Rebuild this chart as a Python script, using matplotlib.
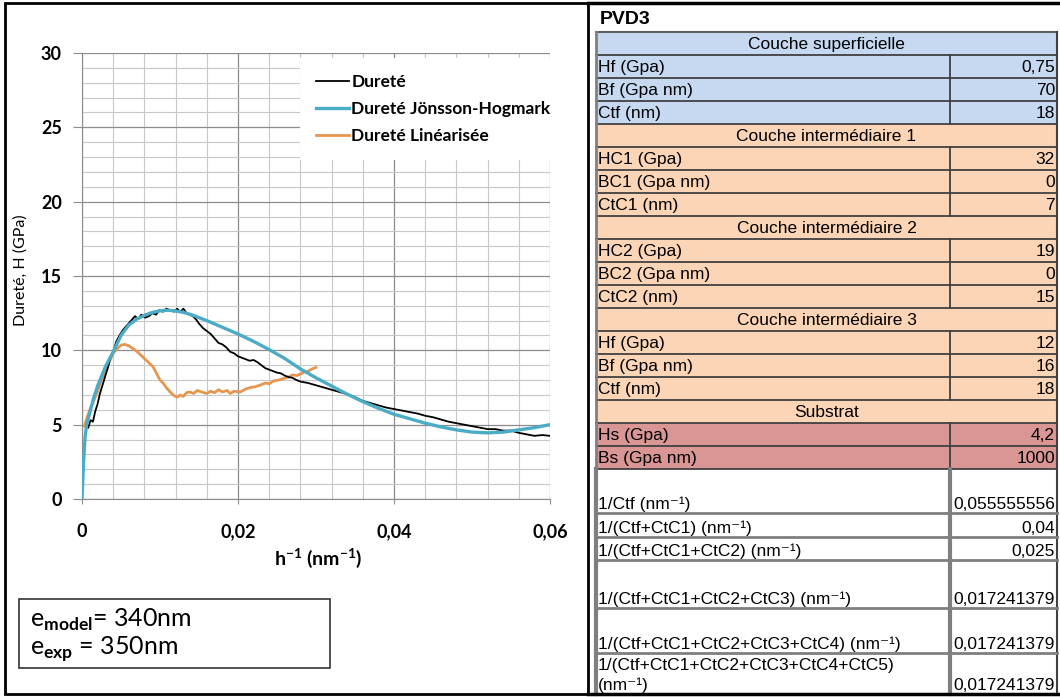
import matplotlib.pyplot as plt
from matplotlib.patches import Rectangle
from matplotlib.ticker import MultipleLocator, FixedLocator, FixedFormatter

plt.rcParams['mathtext.fontset'] = 'custom'
plt.rcParams['mathtext.rm'] = 'Lato'
plt.rcParams['mathtext.bf'] = 'Lato:bold'

# --- courbes (h^-1 en nm^-1, durete en GPa) ---
durete_x = [0.0008, 0.0011, 0.0014, 0.0017, 0.0020, 0.0023, 0.0026, 0.0030, 0.0033, 0.0036,
            0.0040, 0.0044, 0.0048, 0.0053, 0.0058, 0.0063, 0.0068, 0.0072, 0.0076, 0.0081,
            0.0086, 0.0090, 0.0095, 0.0099, 0.0104, 0.0108, 0.0113, 0.0118, 0.0122, 0.0126,
            0.0130, 0.0134, 0.0138, 0.0142, 0.0146, 0.0150, 0.0155, 0.0160, 0.0165, 0.0170,
            0.0175, 0.0180, 0.0185, 0.0190, 0.0195, 0.0200, 0.0205, 0.0210, 0.0215, 0.0220,
            0.0225, 0.0230, 0.0235, 0.0240, 0.0245, 0.0250, 0.0255, 0.0260, 0.0265, 0.0270,
            0.0275, 0.0280, 0.0290, 0.0300, 0.0310, 0.0320, 0.0330, 0.0340, 0.0350, 0.0360,
            0.0370, 0.0380, 0.0390, 0.0400, 0.0410, 0.0420, 0.0430, 0.0440, 0.0450, 0.0460,
            0.0470, 0.0480, 0.0490, 0.0500, 0.0510, 0.0520, 0.0530, 0.0540, 0.0550, 0.0560,
            0.0570, 0.0580, 0.0590, 0.0600]
durete_y = [4.8, 5.3, 5.2, 5.9, 6.4, 7.1, 7.6, 8.3, 8.8, 9.4,
            9.9, 10.6, 11.0, 11.4, 11.7, 12.0, 12.3, 12.1, 12.4, 12.2,
            12.3, 12.5, 12.4, 12.7, 12.6, 12.8, 12.7, 12.6, 12.8, 12.6,
            12.8, 12.5, 12.4, 12.3, 12.1, 11.8, 11.5, 11.3, 11.1, 10.8,
            10.5, 10.4, 10.2, 9.9, 9.8, 9.6, 9.5, 9.4, 9.3, 9.35,
            9.2, 9.0, 8.8, 8.7, 8.6, 8.5, 8.45, 8.3, 8.2, 8.15,
            8.0, 7.9, 7.8, 7.65, 7.5, 7.35, 7.2, 7.05, 6.85, 6.6,
            6.45, 6.3, 6.15, 6.05, 5.95, 5.85, 5.75, 5.6, 5.5, 5.35,
            5.2, 5.1, 5.0, 4.9, 4.8, 4.7, 4.7, 4.6, 4.6, 4.45,
            4.35, 4.25, 4.3, 4.25]

jh_x = [0.0, 0.0002, 0.0004, 0.0006, 0.0010, 0.0015, 0.0020, 0.0030, 0.0040, 0.0050,
        0.0060, 0.0070, 0.0080, 0.0090, 0.0100, 0.0110, 0.0120, 0.0130, 0.0140, 0.0160,
        0.0180, 0.0200, 0.0220, 0.0240, 0.0260, 0.0280, 0.0300, 0.0320, 0.0340, 0.0360,
        0.0380, 0.0400, 0.0420, 0.0440, 0.0460, 0.0480, 0.0500, 0.0520, 0.0540, 0.0560,
        0.0580, 0.0600]
jh_y = [0.0, 2.5, 4.2, 5.0, 5.8, 6.8, 7.6, 8.9, 9.9, 11.0,
        11.7, 12.1, 12.35, 12.55, 12.65, 12.7, 12.65, 12.55, 12.4, 12.0,
        11.55, 11.1, 10.6, 10.05, 9.45, 8.75, 8.15, 7.6, 7.05, 6.55,
        6.1, 5.7, 5.4, 5.1, 4.85, 4.65, 4.5, 4.45, 4.5, 4.65,
        4.8, 5.0]

lin_x = [0.0003, 0.0006, 0.0010, 0.0015, 0.0019, 0.0025, 0.0032, 0.0040, 0.0045, 0.0050,
         0.0055, 0.0060, 0.0066, 0.0072, 0.0078, 0.0084, 0.0091, 0.0096, 0.0100, 0.0104,
         0.0108, 0.0113, 0.0118, 0.0122, 0.0126, 0.0130, 0.0134, 0.0138, 0.0143, 0.0148,
         0.0153, 0.0160, 0.0165, 0.0170, 0.0175, 0.0180, 0.0186, 0.0190, 0.0195, 0.0203,
         0.0210, 0.0216, 0.0222, 0.0228, 0.0235, 0.0240, 0.0246, 0.0252, 0.0258, 0.0265,
         0.0270, 0.0275, 0.0280, 0.0285, 0.0290, 0.0295, 0.0300]
lin_y = [4.9, 5.4, 6.0, 6.6, 7.1, 8.0, 8.9, 9.8, 10.1, 10.35,
         10.4, 10.3, 10.1, 9.85, 9.55, 9.25, 8.9, 8.4, 8.0, 7.8,
         7.5, 7.2, 6.95, 6.85, 7.0, 6.9, 7.15, 7.2, 7.1, 7.3,
         7.2, 7.1, 7.25, 7.15, 7.35, 7.2, 7.3, 7.1, 7.25, 7.2,
         7.4, 7.5, 7.55, 7.65, 7.8, 7.75, 7.95, 8.0, 8.1, 8.2,
         8.35, 8.3, 8.4, 8.55, 8.6, 8.75, 8.85]

x_ticks = [0, 0.02, 0.04, 0.06]
x_ticklabels = ['0', '0,02', '0,04', '0,06']

# --- tableau PVD3 ---
sections = ['Couche superficielle', 'Couche intermédiaire 1', 'Couche intermédiaire 2',
            'Couche intermédiaire 3', 'Substrat']
param_labels = [['Hf (Gpa)', 'Bf (Gpa nm)', 'Ctf (nm)'],
                ['HC1 (Gpa)', 'BC1 (Gpa nm)', 'CtC1 (nm)'],
                ['HC2 (Gpa)', 'BC2 (Gpa nm)', 'CtC2 (nm)'],
                ['Hf (Gpa)', 'Bf (Gpa nm)', 'Ctf (nm)'],
                ['Hs (Gpa)', 'Bs (Gpa nm)']]
param_values = [['0,75', '70', '18'], ['32', '0', '7'], ['19', '0', '15'],
                ['12', '16', '18'], ['4,2', '1000']]
inv_labels = ['1/Ctf (nm⁻¹)', '1/(Ctf+CtC1) (nm⁻¹)', '1/(Ctf+CtC1+CtC2) (nm⁻¹)',
              '1/(Ctf+CtC1+CtC2+CtC3) (nm⁻¹)', '1/(Ctf+CtC1+CtC2+CtC3+CtC4) (nm⁻¹)',
              '1/(Ctf+CtC1+CtC2+CtC3+CtC4+CtC5)\n(nm⁻¹)']
inv_values = ['0,055555556', '0,04', '0,025', '0,017241379', '0,017241379', '0,017241379']

W, H = 1060, 697
fig = plt.figure(figsize=(W / 100, H / 100), dpi=100)

# fond en pixels pour cadre + tableau
bg = fig.add_axes([0, 0, 1, 1], zorder=0)
bg.set_xlim(0, W)
bg.set_ylim(H, 0)
bg.axis('off')

ax = fig.add_axes([82 / W, 1 - 499 / H, 468 / W, 446 / H], zorder=2)
ax.plot(durete_x, durete_y, color='black', lw=1.3, label='Dureté', zorder=3)
ax.plot(jh_x, jh_y, color='#4bacc6', lw=2.4, label='Dureté Jönsson-Hogmark', zorder=4)
ax.plot(lin_x, lin_y, color='#e6964e', lw=2.0, label='Dureté Linéarisée', zorder=2)

ax.set_xlim(0, 0.06)
ax.set_ylim(0, 30)
ax.xaxis.set_major_locator(FixedLocator(x_ticks))
ax.xaxis.set_major_formatter(FixedFormatter(x_ticklabels))
ax.xaxis.set_minor_locator(MultipleLocator(0.004))
ax.yaxis.set_major_locator(MultipleLocator(5))
ax.yaxis.set_minor_locator(MultipleLocator(1))
ax.grid(which='major', color='#8c8c8c', lw=0.9)
ax.grid(which='minor', color='#c8c8c8', lw=0.8)
ax.set_axisbelow(True)
for s in ['top', 'right']:
    ax.spines[s].set_visible(False)
for s in ['left', 'bottom']:
    ax.spines[s].set_color('#8c8c8c')
ax.tick_params(axis='y', which='major', length=6.5, color='#8c8c8c', pad=8)
ax.tick_params(axis='x', which='major', length=3.6, color='#8c8c8c', pad=14)
ax.tick_params(which='minor', length=0)
for lab in ax.get_xticklabels() + ax.get_yticklabels():
    lab.set_fontfamily('Lato')
    lab.set_fontweight('bold')
    lab.set_fontsize(13)

ax.set_ylabel('Dureté, H (GPa)', fontfamily='Lato', fontsize=11.5, va='center')
ax.yaxis.set_label_coords((21 - 82) / 468, (499 - 270) / 446)
ax.set_xlabel(r'h$^{\mathbf{-1}}$ (nm$^{\mathbf{-1}}$)', fontfamily='Lato', fontweight='bold',
              fontsize=14)
ax.xaxis.set_label_coords((318 - 82) / 468, -(546 - 499) / 446)

leg = ax.legend(loc='upper left', bbox_to_anchor=((300 - 82) / 468, (499 - 58) / 446),
                borderaxespad=0, frameon=True, fancybox=False, framealpha=1,
                prop={'family': 'Lato', 'weight': 'bold', 'size': 12.5},
                handlelength=1.9, handletextpad=0.15, labelspacing=0.65, borderpad=0.9)
leg.get_frame().set_edgecolor('none')
leg.get_frame().set_facecolor('white')

# encadre epaisseurs
bg.add_patch(Rectangle((19, 599), 311, 69, fill=False, ec='#333333', lw=1.2))
bg.text(30, 620, r'e$_{\mathbf{model}}$= 340nm', fontfamily='Lato', fontsize=18, va='center')
bg.text(30, 649, r'e$_{\mathbf{exp}}$ = 350nm', fontfamily='Lato', fontsize=18, va='center')

# cadres
bg.add_patch(Rectangle((5, 3), 583, 691, fill=False, ec='black', lw=2, zorder=5))
bg.plot([588, 1058], [3, 3], color='black', lw=2.5, zorder=5)
bg.plot([588, 1058], [694, 694], color='black', lw=2.5, zorder=5)

# tableau
tfont = ['Liberation Sans', 'DejaVu Sans']
fs = 12.5
tx0, tx1, tx2 = 596, 950, 1057
rh = (469 - 32) / 19
bg.text(600, 19, 'PVD3', fontfamily=tfont, fontweight='bold', fontsize=14, va='center')
sec_colors = ['#c6d9f1', '#fbd5b5', '#fbd5b5', '#fbd5b5', '#fbd5b5']
par_colors = ['#c6d9f1', '#fbd5b5', '#fbd5b5', '#fbd5b5', '#d99694']
y = 32
for sec, labs, vals, c_sec, c_par in zip(sections, param_labels, param_values,
                                         sec_colors, par_colors):
    bg.add_patch(Rectangle((tx0, y), tx2 - tx0, rh, fc=c_sec, ec='none'))
    bg.text((tx0 + tx2) / 2, y + rh / 2 + 1, sec, fontfamily=tfont, fontsize=fs,
            ha='center', va='center')
    bg.plot([tx0, tx2], [y + rh, y + rh], color='#404040', lw=1.3)
    y += rh
    for lab, val in zip(labs, vals):
        bg.add_patch(Rectangle((tx0, y), tx2 - tx0, rh, fc=c_par, ec='none'))
        bg.text(tx0 + 2, y + rh / 2 + 1, lab, fontfamily=tfont, fontsize=fs, va='center')
        bg.text(tx2 - 2, y + rh / 2 + 1, val, fontfamily=tfont, fontsize=fs, va='center',
                ha='right')
        bg.plot([tx1, tx1], [y, y + rh], color='#404040', lw=1.3)
        bg.plot([tx0, tx2], [y + rh, y + rh], color='#404040', lw=1.3)
        y += rh
bg.plot([tx0, tx2], [32, 32], color='#606060', lw=1.5)
bg.plot([tx0, tx0], [32, 469], color='#808080', lw=2)
bg.plot([tx2, tx2], [32, 694], color='#404040', lw=1.5)

low_edges = [469, 513, 537, 560, 608, 653, 694]
for i, (lab, val) in enumerate(zip(inv_labels, inv_values)):
    y0, y1 = low_edges[i], low_edges[i + 1]
    bg.text(tx0 + 2, y1 - 1, lab, fontfamily=tfont, fontsize=fs, va='bottom',
            linespacing=1.35)
    bg.text(tx2 - 2, y1 - 1, val, fontfamily=tfont, fontsize=fs, va='bottom', ha='right')
    if i < len(inv_labels) - 1:
        bg.plot([tx0, tx2], [y1, y1], color='#7f7f7f', lw=2)
bg.plot([tx0, tx0], [469, 694], color='#7f7f7f', lw=3)
bg.plot([tx1, tx1], [469, 694], color='#7f7f7f', lw=3)

fig.savefig('out.png', dpi=100)
